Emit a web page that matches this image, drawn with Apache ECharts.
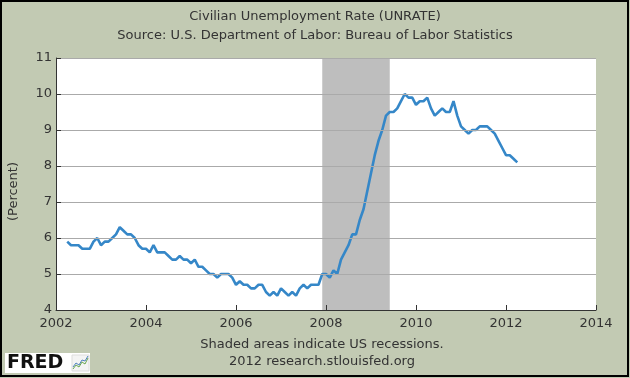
<!DOCTYPE html>
<html>
<head>
<meta charset="utf-8">
<script src="https://cdn.jsdelivr.net/npm/echarts@6/dist/echarts.min.js"></script>
<style>
html,body{margin:0;padding:0;background:#c2cab3;}
#chart{width:630px;height:378px;}
</style>
</head>
<body>
<div id="chart"></div>
<script>
// ---- data ----
const titleText = 'Civilian Unemployment Rate (UNRATE)';
const subtitleText = 'Source: U.S. Department of Labor: Bureau of Labor Statistics';
const yAxisName = '(Percent)';
const footer1 = 'Shaded areas indicate US recessions.';
const footer2 = '2012 research.stlouisfed.org';
const startYear = 2002;
const startMonth = 4; // April 2002
const unrate = [
  5.9, 5.8, 5.8, 5.8, 5.7, 5.7, 5.7, 5.9, 6.0,
  5.8, 5.9, 5.9, 6.0, 6.1, 6.3, 6.2, 6.1, 6.1, 6.0, 5.8, 5.7,
  5.7, 5.6, 5.8, 5.6, 5.6, 5.6, 5.5, 5.4, 5.4, 5.5, 5.4, 5.4,
  5.3, 5.4, 5.2, 5.2, 5.1, 5.0, 5.0, 4.9, 5.0, 5.0, 5.0, 4.9,
  4.7, 4.8, 4.7, 4.7, 4.6, 4.6, 4.7, 4.7, 4.5, 4.4, 4.5, 4.4,
  4.6, 4.5, 4.4, 4.5, 4.4, 4.6, 4.7, 4.6, 4.7, 4.7, 4.7, 5.0,
  5.0, 4.9, 5.1, 5.0, 5.4, 5.6, 5.8, 6.1, 6.1, 6.5, 6.8, 7.3,
  7.8, 8.3, 8.7, 9.0, 9.4, 9.5, 9.5, 9.6, 9.8, 10.0, 9.9, 9.9,
  9.7, 9.8, 9.8, 9.9, 9.6, 9.4, 9.5, 9.6, 9.5, 9.5, 9.8, 9.4,
  9.1, 9.0, 8.9, 9.0, 9.0, 9.1, 9.1, 9.1, 9.0, 8.9, 8.7, 8.5,
  8.3, 8.3, 8.2, 8.1
];
const recession = ['2007-12', '2009-06'];
const xTicks = [2002, 2004, 2006, 2008, 2010, 2012, 2014];
const yTicks = [4, 5, 6, 7, 8, 9, 10, 11];

// ---- helpers ----
function ymToDec(s){ const p = s.split('-'); return +p[0] + (+p[1] - 1) / 12; }
const seriesData = unrate.map((v, i) => [startYear + (startMonth - 1 + i) / 12, v]);

const FONT = 'DejaVu Sans';
const TXT = '#333333';

const chart = echarts.init(document.getElementById('chart'), null, {renderer: 'canvas'});
chart.setOption({
  animation: false,
  backgroundColor: '#c2cab3',
  textStyle: {fontFamily: FONT},
  title: [
    {text: titleText, left: 'center', top: 5,
     textStyle: {fontFamily: FONT, fontSize: 13, fontWeight: 'normal', color: TXT}},
    {text: subtitleText, left: 'center', top: 24,
     textStyle: {fontFamily: FONT, fontSize: 13, fontWeight: 'normal', color: TXT}}
  ],
  grid: {left: 56, right: 34, top: 58, bottom: 68, show: true, backgroundColor: '#ffffff', borderWidth: 0},
  xAxis: {
    type: 'value', min: xTicks[0], max: xTicks[xTicks.length - 1], interval: 2, z: 5,
    axisLine: {show: true, onZero: false, lineStyle: {color: '#333', width: 1}},
    axisTick: {show: true, inside: true, length: 5, lineStyle: {color: '#333'}},
    axisLabel: {color: TXT, fontSize: 13, fontFamily: FONT, margin: 7, formatter: v => String(v)},
    splitLine: {show: false}
  },
  yAxis: {
    type: 'value', min: yTicks[0], max: yTicks[yTicks.length - 1], interval: 1, z: 5,
    axisLine: {show: true, lineStyle: {color: '#333', width: 1}},
    axisTick: {show: true, inside: true, length: 5, lineStyle: {color: '#333'}},
    axisLabel: {color: TXT, fontSize: 13, fontFamily: FONT, margin: 4},
    splitLine: {show: true, lineStyle: {color: '#aaaaaa', width: 1}}
  },
  series: [{
    type: 'line',
    data: seriesData,
    showSymbol: false,
    symbol: 'none',
    lineStyle: {color: '#3587c8', width: 2.6},
    z: 4,
    markArea: {
      silent: true,
      itemStyle: {color: '#bebebe', opacity: 1},
      data: [[{xAxis: ymToDec(recession[0])}, {xAxis: ymToDec(recession[1])}]]
    }
  }],
  graphic: [
    {type: 'text', left: 7, top: 162, rotation: Math.PI / 2, z: 10,
     style: {text: yAxisName, fill: TXT, font: '13px "DejaVu Sans"'}},
    {type: 'text', x: 322, y: 345, z: 10,
     style: {text: footer1, fill: TXT, font: '13px "DejaVu Sans"', align: 'center', verticalAlign: 'middle'}},
    {type: 'text', x: 322, y: 362, z: 10,
     style: {text: footer2, fill: TXT, font: '13px "DejaVu Sans"', align: 'center', verticalAlign: 'middle'}},
    {type: 'group', left: 5, top: 353, z: 10, children: [
      {type: 'rect', shape: {x: 0, y: 0, width: 85, height: 20}, style: {fill: '#ffffff'}},
      {type: 'text', x: 2, y: 10, style: {text: 'FRED', fill: '#111', font: 'bold 19px "DejaVu Sans"', verticalAlign: 'middle'}},
      {type: 'rect', shape: {x: 67, y: 2, width: 17, height: 16}, style: {fill: '#f4f4f4', stroke: '#dddddd', lineWidth: 1}},
      {type: 'polyline', shape: {points: [[68,16],[71,12],[74,14],[77,9],[80,11],[83,5]]}, style: {stroke: '#6aa84f', lineWidth: 1, fill: null}},
      {type: 'polyline', shape: {points: [[68,14],[71,10],[74,12],[77,7],[80,8],[83,3]]}, style: {stroke: '#4f81bd', lineWidth: 1, fill: null}}
    ]},
    {type: 'rect', z: 20, shape: {x: 1, y: 1, width: 627, height: 375}, style: {fill: null, stroke: '#000', lineWidth: 2}}
  ]
});
</script>
</body>
</html>
